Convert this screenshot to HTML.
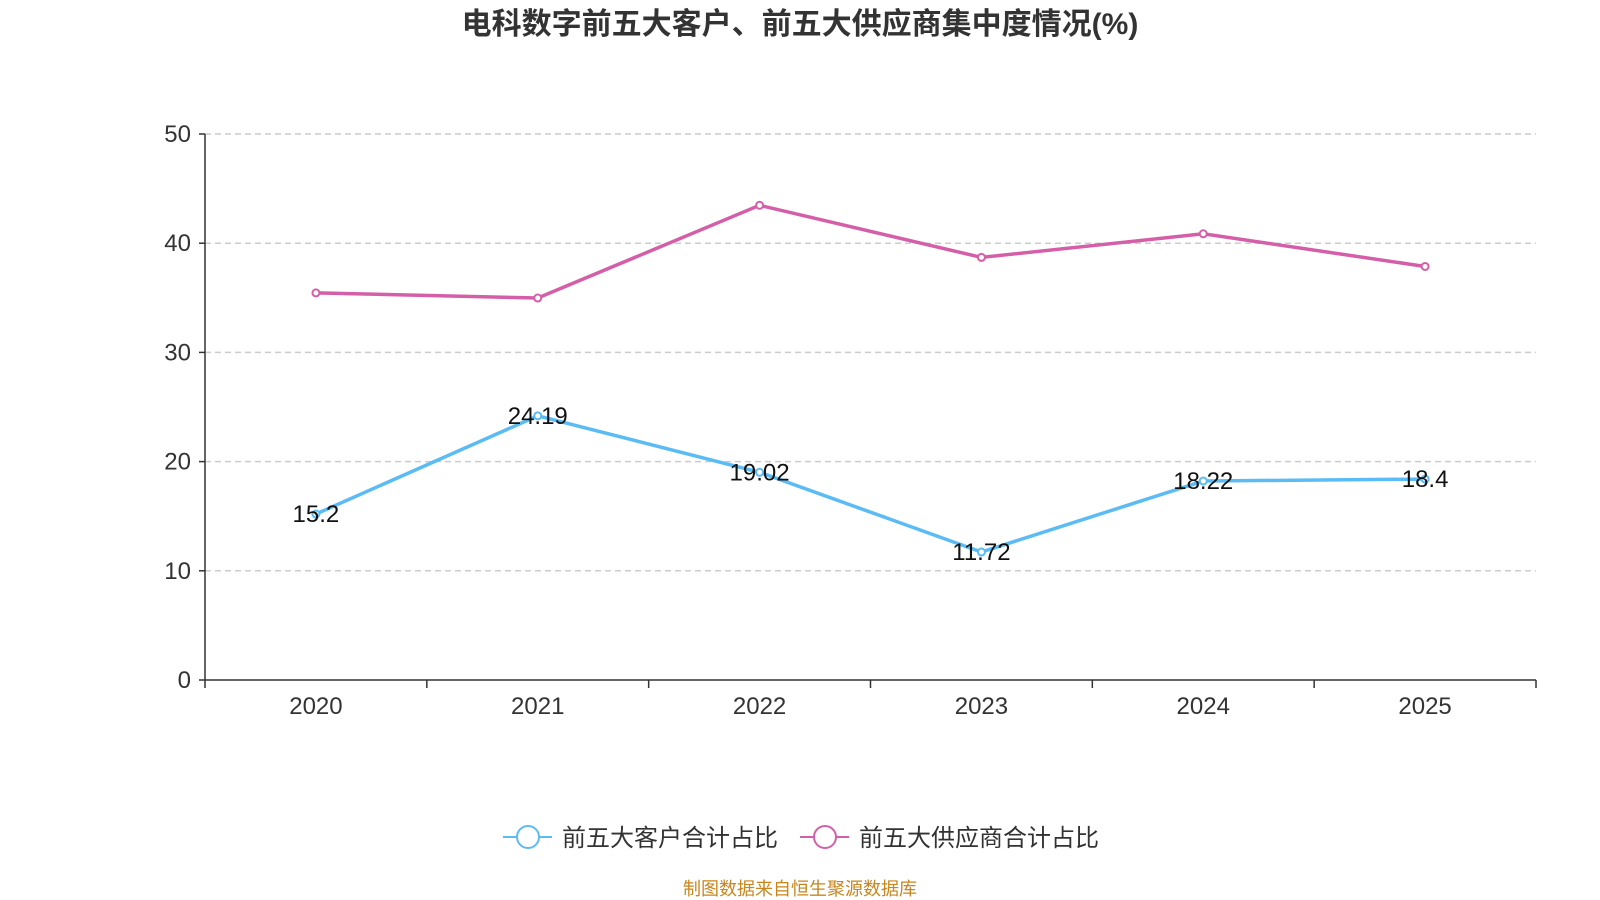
<!DOCTYPE html>
<html><head><meta charset="utf-8"><style>
html,body{margin:0;padding:0;background:#fff;width:1600px;height:900px;overflow:hidden}
svg{display:block;font-family:"Liberation Sans","Noto Sans CJK SC",sans-serif}
</style></head><body>
<svg id="chart" width="1600" height="900">
<text x="800" y="34" text-anchor="middle" font-size="30" font-weight="bold" fill="#333">电科数字前五大客户、前五大供应商集中度情况(%)</text>
<g id="grid"></g><g id="axes"></g><g id="series"></g>
<g>
<g>
<line x1="503" y1="837" x2="552" y2="837" stroke="#5bbcf5" stroke-width="2"/><circle cx="528" cy="837" r="11" fill="#fff" stroke="#5bbcf5" stroke-width="2"/>
<text x="562" y="846" font-size="24" fill="#333">前五大客户合计占比</text></g>
<g>
<line x1="800" y1="837" x2="849" y2="837" stroke="#d45fa8" stroke-width="2"/><circle cx="825" cy="837" r="11" fill="#fff" stroke="#d45fa8" stroke-width="2"/>
<text x="859" y="846" font-size="24" fill="#333">前五大供应商合计占比</text></g>
</g>
<text x="800" y="895" text-anchor="middle" font-size="18" fill="#c8861c">制图数据来自恒生聚源数据库</text>
</svg>
<script>
const categories=["2020","2021","2022","2023","2024","2025"];
const customerValues=[15.2,24.19,19.02,11.72,18.22,18.4];
const supplierValues=[35.45,34.98,43.47,38.7,40.86,37.87];
const yTicks=[0,10,20,30,40,50];
const NS="http://www.w3.org/2000/svg";
const x0=205,x1=1536,yTop=134,yBot=680,yMax=50;
const band=(x1-x0)/categories.length;
const xs=i=>x0+band*(i+0.5);
const ys=v=>yBot-(v/yMax)*(yBot-yTop);
function mk(tag,attrs,parent,text){const e=document.createElementNS(NS,tag);for(const k in attrs)e.setAttribute(k,attrs[k]);if(text!=null)e.textContent=text;parent.appendChild(e);return e;}
const grid=document.getElementById('grid'),axes=document.getElementById('axes'),series=document.getElementById('series');
yTicks.forEach(t=>{const y=ys(t);
 if(t>0){const g=mk('line',{x1:x0,x2:x1,y1:y,y2:y,stroke:'#ccc','stroke-dasharray':'6,4','stroke-width':1.5},grid);
 
 }
 mk('line',{x1:x0-6,x2:x0,y1:y,y2:y,stroke:'#333','stroke-width':1.5},axes);
 const l=mk('text',{x:x0-14,y:y+8,'text-anchor':'end','font-size':24,fill:'#333'},axes,String(t));
 
 
});
const ya=mk('line',{x1:x0,x2:x0,y1:yTop,y2:yBot,stroke:'#333','stroke-width':1.5},axes);


const xa=mk('line',{x1:x0,x2:x1,y1:yBot,y2:yBot,stroke:'#333','stroke-width':1.5},axes);


for(let i=0;i<=categories.length;i++){mk('line',{x1:x0+band*i,x2:x0+band*i,y1:yBot,y2:yBot+8,stroke:'#333','stroke-width':1.5},axes);}
categories.forEach((c,i)=>{const t=mk('text',{x:xs(i),y:yBot+34,'text-anchor':'middle','font-size':24,fill:'#333'},axes,c);
 
 });
function drawSeries(vals,color,name,labels){
 const p=mk('polyline',{points:vals.map((v,i)=>xs(i)+','+ys(v)).join(' '),fill:'none',stroke:color,'stroke-width':3.5},series);
 
 
 vals.forEach((v,i)=>{const c=mk('circle',{cx:xs(i),cy:ys(v),r:3.5,fill:'#fff',stroke:color,'stroke-width':2},series);
  
  
  if(labels){const t=mk('text',{x:xs(i),y:ys(v)+8,'text-anchor':'middle','font-size':24,fill:'#111'},series,String(v));
   
   }
 });
}
drawSeries(supplierValues,'#d45fa8','supplier',false);
drawSeries(customerValues,'#5bbcf5','customer',true);
</script>
</body></html>
